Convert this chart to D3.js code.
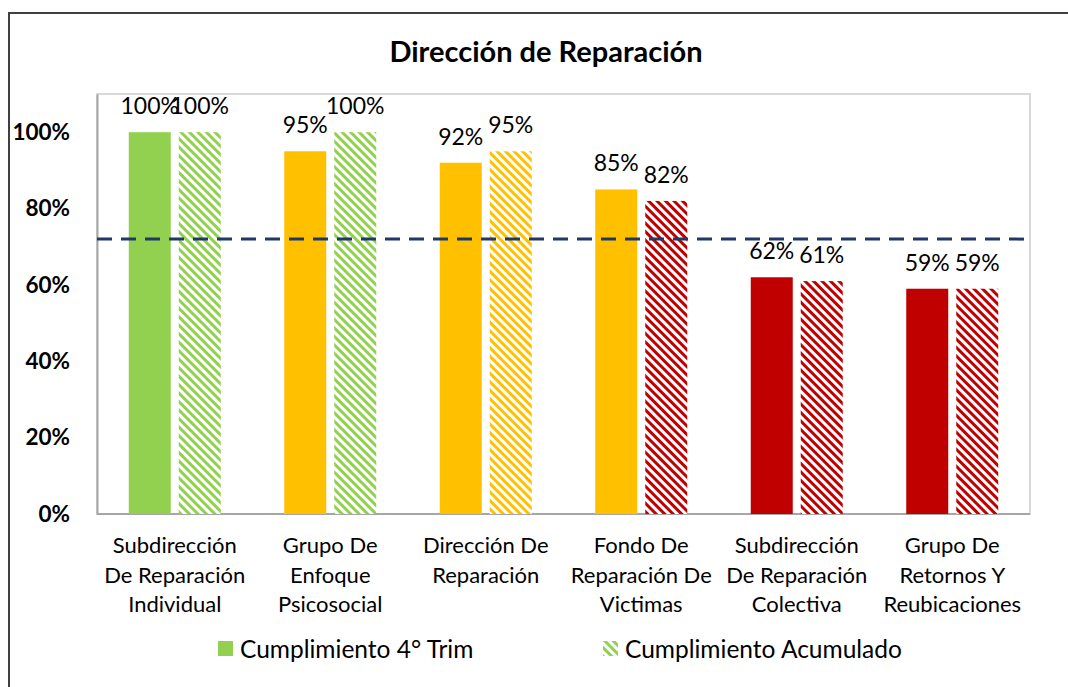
<!DOCTYPE html>
<html>
<head>
<meta charset="utf-8">
<script src="https://cdn.jsdelivr.net/npm/d3@7"></script>
<style>
  body { margin: 0; background: #fff; }
  svg { font-family: Lato, "Open Sans", sans-serif; }
</style>
</head>
<body>
<div id="chart"></div>
<script>
(function() {
    "use strict";

    // data
    const categories = [
        ["Subdirección", "De Reparación", "Individual"],
        ["Grupo De", "Enfoque", "Psicosocial"],
        ["Dirección De", "Reparación"],
        ["Fondo De", "Reparación De", "Victimas"],
        ["Subdirección", "De Reparación", "Colectiva"],
        ["Grupo De", "Retornos Y", "Reubicaciones"]
    ];
    const trimValues = [1.00, 0.95, 0.92, 0.85, 0.62, 0.59];
    const acumValues = [1.00, 1.00, 0.95, 0.82, 0.61, 0.59];
    const yTicks = [0, 0.2, 0.4, 0.6, 0.8, 1.0];
    const targetLine = 0.72;
    const seriesNames = ["Cumplimiento 4° Trim", "Cumplimiento Acumulado"];

    const width = 1068, height = 687;
    const plot = {left: 97, right: 1030, top: 94, bottom: 514};

    // traffic light colour by value
    function colorFor(v) {
        if (v >= 0.96) return "#92d050";
        if (v >= 0.84) return "#ffc000";
        return "#c00000";
    }
    const hatchId = {"#92d050": "hatch-green", "#ffc000": "hatch-orange", "#c00000": "hatch-red"};

    const svg = d3.select("#chart").append("svg").attr("width", width).attr("height", height);

    // hatch patterns (wide downward diagonal)
    const defs = svg.append("defs");
    Object.keys(hatchId).forEach(function(c) {
        const p = defs.append("pattern")
            .attr("id", hatchId[c])
            .attr("patternUnits", "userSpaceOnUse")
            .attr("width", 6).attr("height", 6)
            .attr("patternTransform", "rotate(45)");
        p.append("rect").attr("width", 6).attr("height", 6).attr("fill", "#fff");
        p.append("rect").attr("width", 6).attr("height", 3).attr("fill", c);
    });

    // outer frame
    svg.append("path")
        .attr("d", "M9," + height + "V13H" + width)
        .attr("fill", "none").attr("stroke", "#404040").attr("stroke-width", 2);

    const x = d3.scaleBand().domain(d3.range(categories.length))
        .range([plot.left, plot.right]);
    const y = d3.scaleLinear().domain([0, 1.1]).range([plot.bottom, plot.top]);

    const barW = 42, gap = 8;

    // plot area border
    svg.append("rect")
        .attr("x", plot.left).attr("y", plot.top)
        .attr("width", plot.right - plot.left).attr("height", plot.bottom - plot.top)
        .attr("fill", "none").attr("stroke", "#d9d9d9").attr("stroke-width", 2);

    // title
    svg.append("text")
        .attr("x", 546).attr("y", 62)
        .attr("text-anchor", "middle")
        .attr("font-size", 29).attr("font-weight", "bold")
        .text("Dirección de Reparación");

    // y axis
    const yAxis = svg.append("g")
        .attr("transform", "translate(" + plot.left + ",0)")
        .call(d3.axisLeft(y).tickValues(yTicks).tickFormat(d3.format(".0%")).tickSize(0).tickPadding(27));
    yAxis.select(".domain").attr("stroke", "#a6a6a6").attr("stroke-width", 2);
    yAxis.selectAll("text").attr("font-size", 22.5).attr("font-weight", "bold")
        .attr("font-family", "Lato, sans-serif").attr("fill", "#000");

    // x axis line
    svg.append("line")
        .attr("x1", plot.left).attr("x2", plot.right)
        .attr("y1", y(0)).attr("y2", y(0))
        .attr("stroke", "#a6a6a6").attr("stroke-width", 2);

    const groups = svg.selectAll(".cat").data(categories).enter().append("g")
        .attr("class", "cat");

    // first series: solid bars
    groups.append("rect")
        .attr("x", function(d, i) { return x(i) + x.bandwidth() / 2 - gap / 2 - barW; })
        .attr("y", function(d, i) { return y(trimValues[i]); })
        .attr("width", barW)
        .attr("height", function(d, i) { return y(0) - y(trimValues[i]); })
        .attr("fill", function(d, i) { return colorFor(trimValues[i]); });

    // second series: hatched bars
    groups.append("rect")
        .attr("x", function(d, i) { return x(i) + x.bandwidth() / 2 + gap / 2; })
        .attr("y", function(d, i) { return y(acumValues[i]); })
        .attr("width", barW)
        .attr("height", function(d, i) { return y(0) - y(acumValues[i]); })
        .attr("fill", function(d, i) { return "url(#" + hatchId[colorFor(acumValues[i])] + ")"; });

    // target line
    svg.append("line")
        .attr("x1", plot.left).attr("x2", plot.right)
        .attr("y1", y(targetLine)).attr("y2", y(targetLine))
        .attr("stroke", "#1f3864").attr("stroke-width", 3)
        .attr("stroke-dasharray", "15,9");

    // value labels
    groups.append("text")
        .attr("x", function(d, i) { return x(i) + x.bandwidth() / 2 - gap / 2 - barW / 2; })
        .attr("y", function(d, i) { return y(trimValues[i]) - 18; })
        .attr("text-anchor", "middle").attr("font-size", 23)
        .text(function(d, i) { return Math.round(trimValues[i] * 100) + "%"; });
    groups.append("text")
        .attr("x", function(d, i) { return x(i) + x.bandwidth() / 2 + gap / 2 + barW / 2; })
        .attr("y", function(d, i) { return y(acumValues[i]) - 18; })
        .attr("text-anchor", "middle").attr("font-size", 23)
        .text(function(d, i) { return Math.round(acumValues[i] * 100) + "%"; });

    // category labels
    groups.append("text")
        .attr("text-anchor", "middle").attr("font-size", 22)
        .attr("transform", function(d, i) { return "translate(" + (x(i) + x.bandwidth() / 2) + ",553)"; })
        .selectAll("tspan").data(function(d) { return d; }).enter().append("tspan")
        .attr("x", 0).attr("dy", function(d, j) { return j === 0 ? 0 : 29.5; })
        .text(function(d) { return d; });

    // legend
    const legend = svg.append("g");
    const legX = [218, 603];
    seriesNames.forEach(function(name, i) {
        legend.append("rect")
            .attr("x", legX[i]).attr("y", 641)
            .attr("width", 15).attr("height", 15)
            .attr("fill", i === 0 ? "#92d050" : "url(#hatch-green)");
        legend.append("text")
            .attr("x", legX[i] + 22).attr("y", 658)
            .attr("font-size", 24.5)
            .text(name);
    });
})();
</script>
</body>
</html>
